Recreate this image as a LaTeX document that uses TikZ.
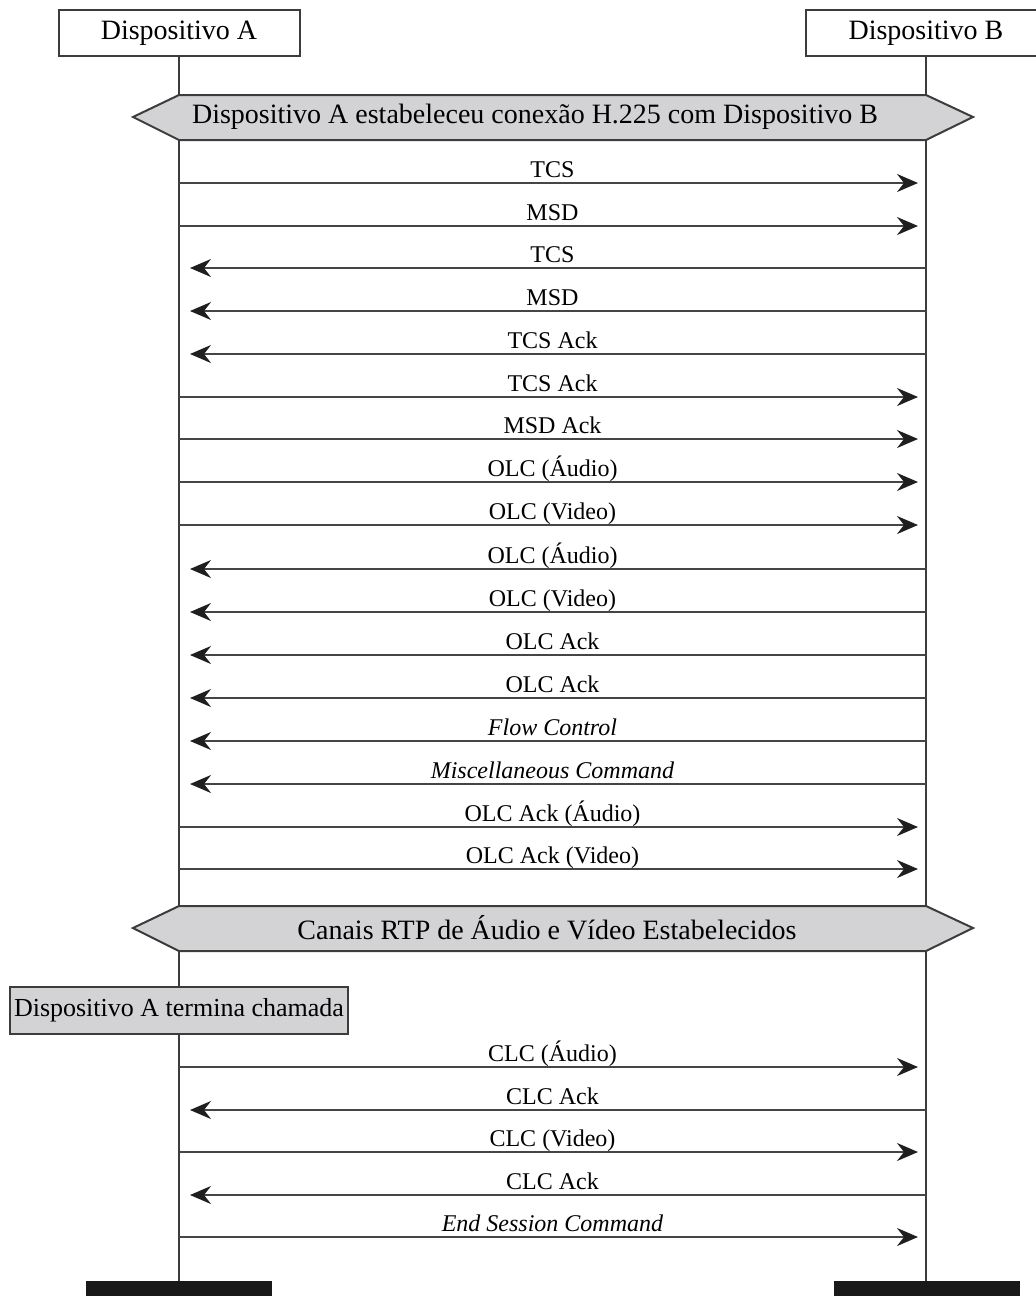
\documentclass[tikz,border=0pt]{standalone}
\usepackage{fontspec}
\setmainfont{Liberation Serif}
\usepackage{tikz}
\usetikzlibrary{arrows.meta,calc}
\usepackage{xcolor}

\definecolor{lineg}{HTML}{3C3C3C}
\definecolor{msgg}{HTML}{454545}
\definecolor{bandg}{HTML}{D3D3D5}

\tikzset{
  devbox/.style={draw=lineg,line width=1pt,fill=white,minimum width=120.5pt,
    minimum height=23pt,inner sep=0pt,font=\fontsize{14}{16}\selectfont},
  band/.style={draw=lineg,line width=1pt,fill=bandg},
  bandtxt/.style={inner sep=0pt,font=\fontsize{14}{16}\selectfont},
  notebox/.style={draw=lineg,line width=1pt,fill=bandg,minimum width=169pt,
    minimum height=23.5pt,inner sep=0pt,font=\fontsize{13}{15}\selectfont},
  life/.style={draw=lineg,line width=1.2pt},
  endbar/.style={fill=black!90,minimum width=93pt,minimum height=7.5pt,inner sep=0pt},
  msg/.style={draw=msgg,line width=1pt},
  fwd/.style={msg,->,shorten >=4pt},
  bwd/.style={msg,<-,shorten <=5.5pt},
  lbl/.style={midway,anchor=base,yshift=3pt,inner sep=0pt,text=black,
    font=\fontsize{12}{14}\selectfont}
}

\begin{document}
\begin{tikzpicture}[x=0.5pt,y=-0.5pt,>={Stealth[length=10.5pt,width=9pt,inset=3.5pt,color=black!88]}]
\useasboundingbox (0,0) rectangle (1036,1296);

% lifelines
\node (devA) [devbox] at (179,33) {Dispositivo A};
\node (devB) [devbox] at (926,33) {Dispositivo B};
\node (barA) [endbar] at (179,1288.5) {};
\node (barB) [endbar] at (927,1288.5) {};
\draw[life] (devA) -- (barA);
\draw[life] (devB.south) -- (devB.south |- barB.north);

% bands
\draw[band] (133,117) -- (179,95) -- (926,95) -- (973,117) -- (926,140) -- (179,140) -- cycle;
\node (hdr1) [bandtxt] at (535,117) {Dispositivo A estabeleceu conexão H.225 com Dispositivo B};
\draw[band] (133,928) -- (179,906) -- (926,906) -- (973,928) -- (926,951) -- (179,951) -- cycle;
\node (hdr2) [bandtxt] at (547,928) {Canais RTP de Áudio e Vídeo Estabelecidos};

\node (endA) [notebox] at (179,1010.5) {Dispositivo A termina chamada};

% messages
\foreach \y/\dir/\txt [count=\i] in {
  183/fwd/TCS, 226/fwd/MSD, 268/bwd/TCS, 311/bwd/MSD,
  354/bwd/TCS Ack, 397/fwd/TCS Ack, 439/fwd/MSD Ack,
  482/fwd/OLC (Áudio), 525/fwd/OLC (Video),
  569/bwd/OLC (Áudio), 612/bwd/OLC (Video),
  655/bwd/OLC Ack, 698/bwd/OLC Ack,
  741/bwd/\textit{Flow Control}, 784/bwd/\textit{Miscellaneous Command},
  827/fwd/OLC Ack (Áudio), 869/fwd/OLC Ack (Video),
  1067/fwd/CLC (Áudio), 1110/bwd/CLC Ack, 1152/fwd/CLC (Video),
  1195/bwd/CLC Ack, 1237/fwd/\textit{End Session Command}}
{
  \coordinate (a\i) at (179,\y);
  \coordinate (b\i) at (926,\y);
  \draw[\dir] (a\i) -- (b\i) node[lbl] (m\i) {\txt};
}
\end{tikzpicture}
\end{document}
